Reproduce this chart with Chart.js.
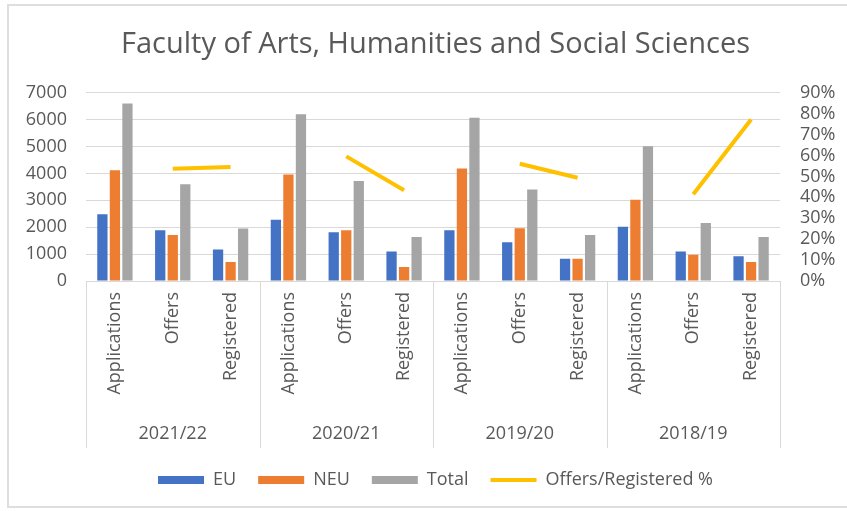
<!DOCTYPE html>
<html>
<head>
<meta charset="utf-8">
<script src="https://cdn.jsdelivr.net/npm/chart.js@4.4.1/dist/chart.umd.min.js"></script>
<style>
  html, body { margin: 0; padding: 0; background: #fff; overflow: hidden; }
  canvas { display: block; }
</style>
</head>
<body>
<canvas id="chart" width="847" height="511"></canvas>
<script>
const years = ['2021/22', '2020/21', '2019/20', '2018/19'];
const stages = ['Applications', 'Offers', 'Registered'];

// one value per (year, stage), in the order shown left to right
const euValues    = [2480, 1890, 1170, 2280, 1810, 1100, 1890, 1440, 830, 2020, 1100, 920];
const neuValues   = [4120, 1710, 710, 3960, 1890, 520, 4180, 1960, 830, 3020, 980, 710];
const totalValues = [6600, 3600, 1950, 6200, 3720, 1640, 6070, 3400, 1710, 5010, 2160, 1640];
// Offers/Registered % only exists for the offers and registered columns
const ratioValues = [null, 53.7, 54.5, null, 59.6, 43.4, null, 56.1, 49.4, null, 41.5, 77.2];

const leftTicks = { min: 0, max: 7000, step: 1000 };
const rightTicks = { min: 0, max: 90, step: 10 };

const labels = [];
years.forEach(() => stages.forEach(s => labels.push(s)));

const font = '"Open Sans", "Noto Sans", sans-serif';
const grey = '#595959';

// light frame round the chart (cut off on the right like the source)
const frame = {
  id: 'frame',
  beforeDraw(chart) {
    const ctx = chart.ctx;
    ctx.save();
    ctx.fillStyle = '#fff';
    ctx.fillRect(0, 0, chart.width, chart.height);
    ctx.strokeStyle = '#dedede';
    ctx.lineWidth = 2;
    ctx.beginPath();
    ctx.moveTo(chart.width + 5, 5);
    ctx.lineTo(8, 5);
    ctx.lineTo(8, 507);
    ctx.lineTo(chart.width + 5, 507);
    ctx.stroke();
    ctx.restore();
  }
};

// two-level category axis: stage names (rotated) and year boxes under them
const stageAxis = {
  id: 'stageAxis',
  afterDraw(chart) {
    const x = chart.scales.x;
    const ctx = chart.ctx;
    const top = chart.chartArea.bottom;
    const w = (x.right - x.left) / labels.length;
    ctx.save();
    ctx.fillStyle = grey;
    ctx.font = '18px ' + font;
    ctx.textAlign = 'right';
    ctx.textBaseline = 'middle';
    labels.forEach((l, i) => {
      ctx.save();
      ctx.translate(x.getPixelForValue(i), top + 11);
      ctx.rotate(-Math.PI / 2);
      ctx.fillText(l, 0, 0);
      ctx.restore();
    });
    ctx.strokeStyle = '#d9d9d9';
    ctx.lineWidth = 1;
    for (let g = 0; g <= years.length; g++) {
      const px = Math.round(x.left + g * stages.length * w) + 0.5;
      ctx.beginPath();
      ctx.moveTo(px, top);
      ctx.lineTo(px, top + 167);
      ctx.stroke();
    }
    ctx.textAlign = 'center';
    years.forEach((y, g) => {
      ctx.fillText(y, x.getPixelForValue(g * stages.length + 1), top + 153);
    });
    ctx.restore();
  }
};

new Chart(document.getElementById('chart'), {
  type: 'bar',
  data: {
    labels: labels,
    datasets: [
      { label: 'EU', data: euValues, backgroundColor: '#4472C4', order: 1,
        pointStyle: 'rect', categoryPercentage: 0.65, barPercentage: 0.82 },
      { label: 'NEU', data: neuValues, backgroundColor: '#ED7D31', order: 1,
        pointStyle: 'rect', categoryPercentage: 0.65, barPercentage: 0.82 },
      { label: 'Total', data: totalValues, backgroundColor: '#A5A5A5', order: 1,
        pointStyle: 'rect', categoryPercentage: 0.65, barPercentage: 0.82 },
      { label: 'Offers/Registered %', type: 'line', data: ratioValues, yAxisID: 'y1',
        borderColor: '#FFC000', backgroundColor: '#FFC000', borderWidth: 4,
        pointRadius: 0, spanGaps: false, order: 0, pointStyle: 'line' }
    ]
  },
  options: {
    responsive: false,
    animation: false,
    layout: { padding: { left: 24, right: 0, top: 0, bottom: 12 } },
    plugins: {
      title: {
        display: true,
        text: 'Faculty of Arts, Humanities and Social Sciences',
        color: grey,
        font: { family: font, size: 29, weight: 'normal' },
        padding: { top: 27, bottom: 31 }
      },
      legend: {
        position: 'bottom',
        labels: {
          usePointStyle: true,
          pointStyleWidth: 46,
          boxHeight: 8,
          padding: 22,
          color: grey,
          font: { family: font, size: 18 },
          sort: (a, b) => a.datasetIndex - b.datasetIndex
        }
      },
      tooltip: { enabled: false }
    },
    scales: {
      x: {
        grid: { display: false },
        border: { display: false },
        ticks: { display: false },
        afterFit(scale) { scale.height = 168; }
      },
      y: {
        position: 'left',
        min: leftTicks.min,
        max: leftTicks.max,
        grid: { color: '#d9d9d9', drawTicks: false },
        border: { display: false },
        ticks: {
          stepSize: leftTicks.step,
          color: grey,
          font: { family: font, size: 18 },
          padding: 19,
          callback: v => String(v)
        },
        afterFit(scale) { scale.width = 62; }
      },
      y1: {
        position: 'right',
        min: rightTicks.min,
        max: rightTicks.max,
        grid: { drawOnChartArea: false, drawTicks: false },
        border: { display: false },
        ticks: {
          stepSize: rightTicks.step,
          autoSkip: false,
          color: grey,
          font: { family: font, size: 18 },
          padding: 20,
          callback: v => v + '%'
        },
        afterFit(scale) { scale.width = 67; }
      }
    }
  },
  plugins: [frame, stageAxis]
});
</script>
</body>
</html>
